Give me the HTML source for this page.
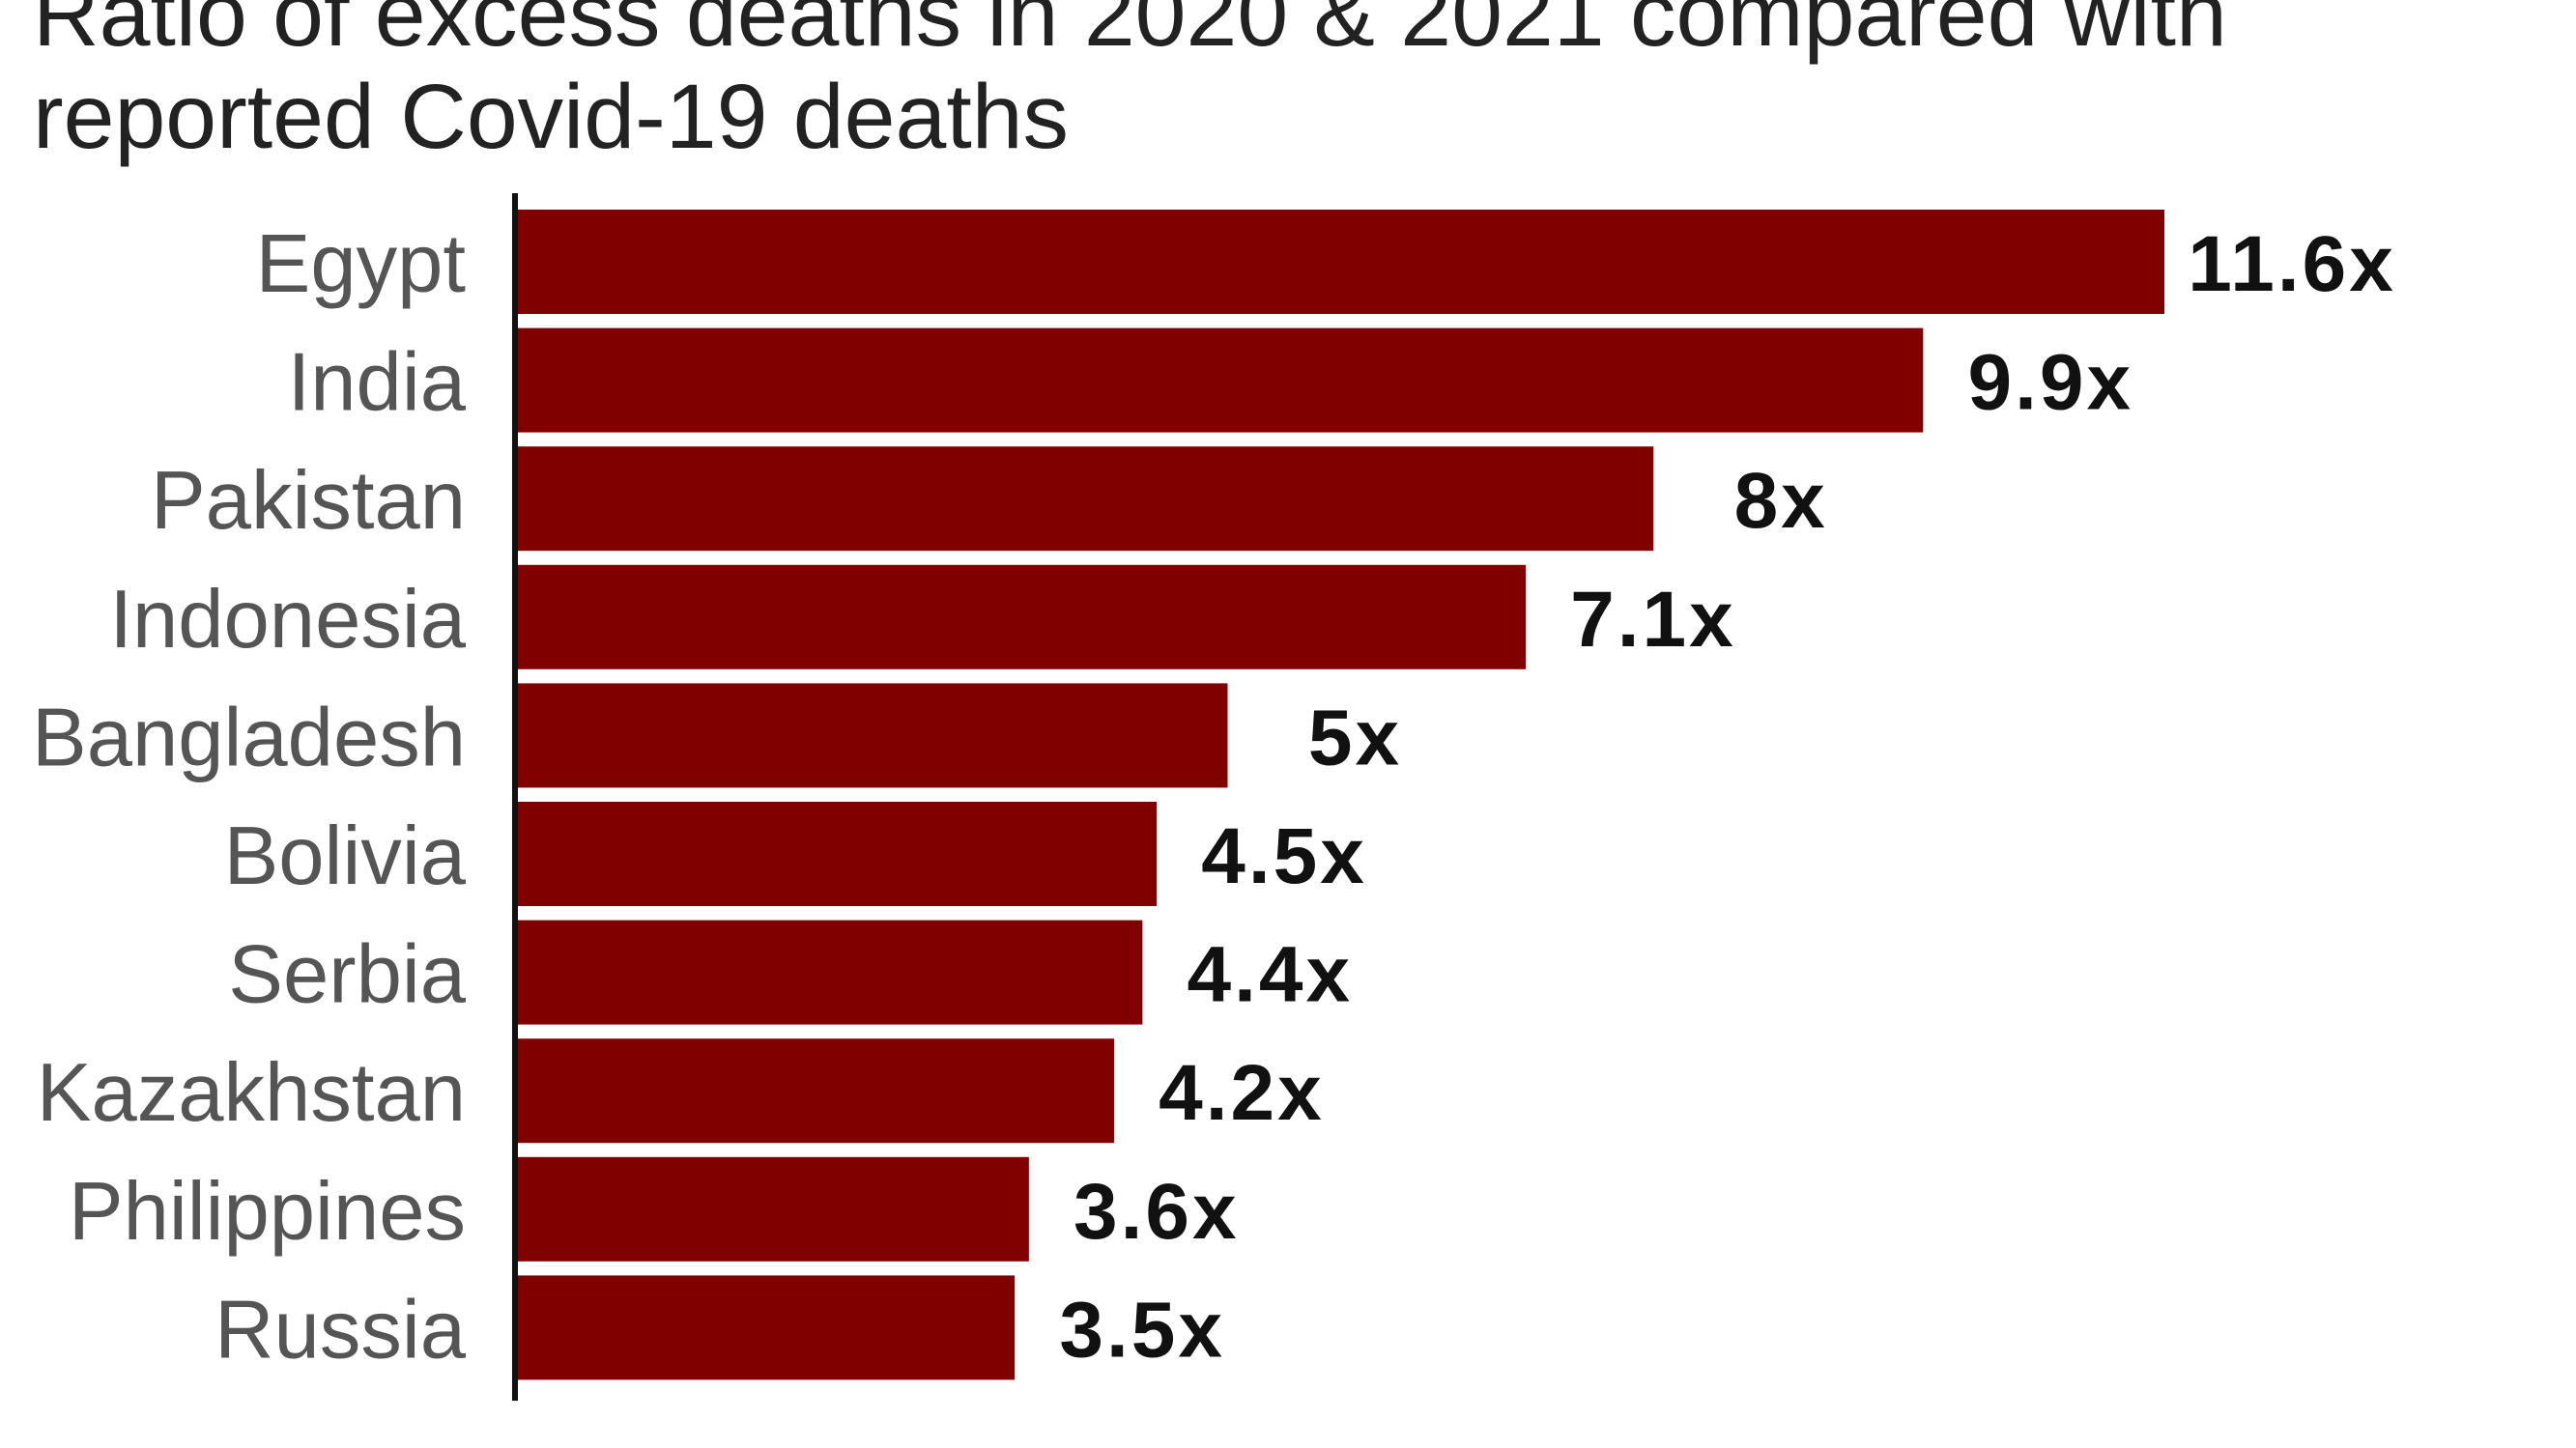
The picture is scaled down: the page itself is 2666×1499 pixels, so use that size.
<!DOCTYPE html>
<html><head><meta charset="utf-8">
<style>
html,body{margin:0;padding:0;background:#fff;}
body{width:2666px;height:1499px;overflow:hidden;position:relative;font-family:"Liberation Sans",sans-serif;}
.title{position:absolute;left:34px;top:-38px;font-size:95px;line-height:106px;color:#222;white-space:nowrap;}
</style></head>
<body>
<div class="title">Ratio of excess deaths in 2020 &amp; 2021 compared with<br>reported Covid-19 deaths</div>
<svg id="chart" width="2666" height="1499" style="position:absolute;left:0;top:0"></svg>
<script>
const categories=["Egypt","India","Pakistan","Indonesia","Bangladesh","Bolivia","Serbia","Kazakhstan","Philippines","Russia"];
const values=[11.6,9.9,8,7.1,5,4.5,4.4,4.2,3.6,3.5];
const valueLabels=["11.6x","9.9x","8x","7.1x","5x","4.5x","4.4x","4.2x","3.6x","3.5x"];
const svg=document.getElementById('chart');
const NS="http://www.w3.org/2000/svg";
const x0=536, pxPerUnit=146.9, top0=217, pitch=122.6, barH=108;
function xScale(v){return x0+v*pxPerUnit;}
function yScale(i){return top0+i*pitch;}
categories.forEach((c,i)=>{
  const r=document.createElementNS(NS,'rect');
  r.setAttribute('x',x0);r.setAttribute('y',yScale(i));
  r.setAttribute('width',xScale(values[i])-x0);r.setAttribute('height',barH);
  r.setAttribute('fill','#800000');
  
  
  svg.appendChild(r);
  const t=document.createElementNS(NS,'text');
  t.setAttribute('x',482);t.setAttribute('y',yScale(i)+barH/2+31);
  t.setAttribute('text-anchor','end');t.setAttribute('font-size','85');
  t.setAttribute('fill','#555');t.setAttribute('font-family','Liberation Sans, sans-serif');
  t.textContent=c;
  
  
  svg.appendChild(t);
  const v=document.createElementNS(NS,'text');
  v.setAttribute('x',xScale(values[i])+132);v.setAttribute('y',yScale(i)+barH/2+30);
  v.setAttribute('text-anchor','middle');v.setAttribute('font-size','82');v.setAttribute('font-weight','bold');
  v.setAttribute('letter-spacing','3');
  v.setAttribute('fill','#111');v.setAttribute('font-family','Liberation Sans, sans-serif');
  v.textContent=valueLabels[i];
  
  
  svg.appendChild(v);
});
const ax=document.createElementNS(NS,'rect');
ax.setAttribute('x',530);ax.setAttribute('y',200);ax.setAttribute('width',6);ax.setAttribute('height',1250);ax.setAttribute('fill','#111');


svg.appendChild(ax);
</script>
</body></html>
